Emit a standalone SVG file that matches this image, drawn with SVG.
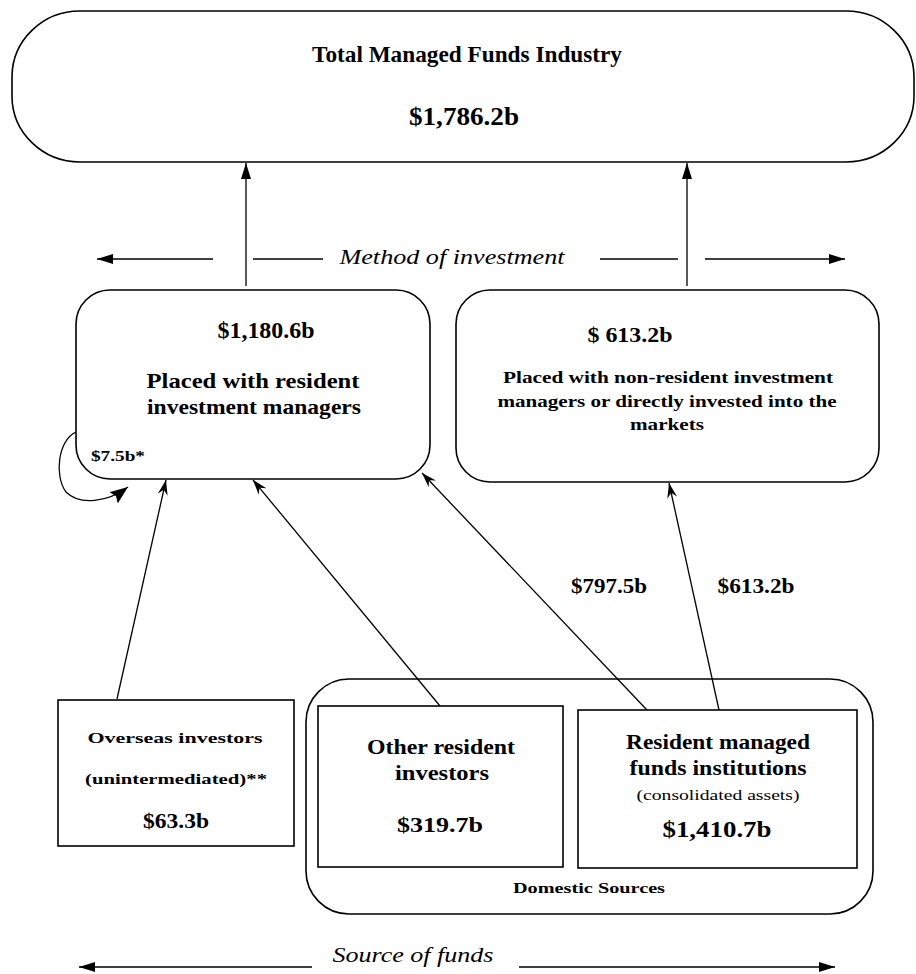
<svg xmlns="http://www.w3.org/2000/svg" width="916" height="974" viewBox="0 0 916 974">
<defs>
<style>
.box{fill:#fff;stroke:#000;stroke-width:1.6}
.ln{fill:none;stroke:#000;stroke-width:1.3}
.t{font-family:"Liberation Serif","Times New Roman",serif;font-weight:bold;fill:#000;text-anchor:middle}
.n{font-family:"Liberation Serif","Times New Roman",serif;fill:#000;text-anchor:middle}
.i{font-family:"Liberation Serif","Times New Roman",serif;font-style:italic;fill:#000;text-anchor:middle}
</style>
<marker id="solid" viewBox="0 0 16 10" refX="16" refY="5" markerWidth="16" markerHeight="10" markerUnits="userSpaceOnUse" orient="auto">
<path d="M0,0 L16,5 L0,10 z" fill="#000"/>
</marker>
<marker id="barb" viewBox="0 0 15 10" refX="15" refY="5" markerWidth="15" markerHeight="10" markerUnits="userSpaceOnUse" orient="auto">
<path d="M0,0 L15,5 L0,10 L5,5 z" fill="#000"/>
</marker>
<marker id="big" viewBox="0 0 18 14" refX="18" refY="7" markerWidth="18" markerHeight="14" markerUnits="userSpaceOnUse" orient="auto">
<path d="M0,0 L18,7 L0,14 L3,7 z" fill="#000"/>
</marker>
</defs>

<g id="total">
<rect class="box" x="12" y="11" width="902" height="151" rx="68" ry="66"/>
<text class="t" x="467" y="62" font-size="23" textLength="310" lengthAdjust="spacingAndGlyphs">Total Managed Funds Industry</text>
<text class="t" x="464" y="125" font-size="25" textLength="110" lengthAdjust="spacingAndGlyphs">$1,786.2b</text>
</g>

<g id="method-label">
<text class="i" x="452" y="264" font-size="20" textLength="225" lengthAdjust="spacingAndGlyphs">Method of investment</text>
</g>

<g id="resident-managers">
<rect class="box" x="76" y="290" width="354" height="189" rx="34" ry="34"/>
<text class="t" x="266" y="338" font-size="23" textLength="97" lengthAdjust="spacingAndGlyphs">$1,180.6b</text>
<text class="t" x="253" y="388" font-size="21" textLength="213" lengthAdjust="spacingAndGlyphs">Placed with resident</text>
<text class="t" x="254" y="414" font-size="21" textLength="214" lengthAdjust="spacingAndGlyphs">investment managers</text>
<text class="t" x="118" y="461" font-size="14" textLength="54" lengthAdjust="spacingAndGlyphs">$7.5b*</text>
</g>

<g id="non-resident">
<rect class="box" x="456" y="290" width="423" height="192" rx="34" ry="34"/>
<text class="t" x="630" y="342" font-size="22" textLength="85" lengthAdjust="spacingAndGlyphs">$ 613.2b</text>
<text class="t" x="668" y="383" font-size="16" textLength="330" lengthAdjust="spacingAndGlyphs">Placed with non-resident investment</text>
<text class="t" x="667" y="407" font-size="16" textLength="339" lengthAdjust="spacingAndGlyphs">managers or directly invested into the</text>
<text class="t" x="667" y="430" font-size="16" textLength="74" lengthAdjust="spacingAndGlyphs">markets</text>
</g>

<g id="overseas">
<rect class="box" x="58" y="700" width="236" height="146"/>
<text class="t" x="175" y="743" font-size="15" textLength="175" lengthAdjust="spacingAndGlyphs">Overseas investors</text>
<text class="t" x="176" y="784" font-size="15" textLength="182" lengthAdjust="spacingAndGlyphs">(unintermediated)**</text>
<text class="t" x="176" y="828" font-size="21" textLength="66" lengthAdjust="spacingAndGlyphs">$63.3b</text>
</g>

<g id="domestic">
<rect class="box" x="306" y="679" width="567" height="235" rx="43" ry="43"/>
<text class="t" x="589" y="893" font-size="15" textLength="152" lengthAdjust="spacingAndGlyphs">Domestic Sources</text>
</g>

<g id="other-resident">
<rect class="box" x="318" y="706" width="245" height="161"/>
<text class="t" x="441" y="754" font-size="21" textLength="148" lengthAdjust="spacingAndGlyphs">Other resident</text>
<text class="t" x="442" y="780" font-size="21" textLength="94" lengthAdjust="spacingAndGlyphs">investors</text>
<text class="t" x="440" y="832" font-size="22" textLength="86" lengthAdjust="spacingAndGlyphs">$319.7b</text>
</g>

<g id="resident-funds">
<rect class="box" x="578" y="710" width="279" height="158"/>
<text class="t" x="718" y="749" font-size="21" textLength="184" lengthAdjust="spacingAndGlyphs">Resident managed</text>
<text class="t" x="718" y="775" font-size="21" textLength="177" lengthAdjust="spacingAndGlyphs">funds institutions</text>
<text class="n" x="718" y="800" font-size="14" textLength="163" lengthAdjust="spacingAndGlyphs">(consolidated assets)</text>
<text class="t" x="717" y="837" font-size="24" textLength="109" lengthAdjust="spacingAndGlyphs">$1,410.7b</text>
</g>

<g id="source-label">
<text class="i" x="413" y="962" font-size="20" textLength="161" lengthAdjust="spacingAndGlyphs">Source of funds</text>
</g>

<g id="connectors">
<line class="ln" x1="246" y1="286" x2="246" y2="163" marker-end="url(#solid)"/>
<line class="ln" x1="687" y1="286" x2="687" y2="163" marker-end="url(#solid)"/>
<line class="ln" x1="213" y1="259" x2="97" y2="259" marker-end="url(#solid)"/>
<line class="ln" x1="253" y1="259" x2="323" y2="259"/>
<line class="ln" x1="600" y1="259" x2="678" y2="259"/>
<line class="ln" x1="705" y1="259" x2="845" y2="259" marker-end="url(#solid)"/>
<path class="ln" d="M76,432 C58,440 54,476 66,492 C80,506 108,502 128,487" marker-end="url(#big)"/>
<line class="ln" x1="117" y1="699" x2="166" y2="480" marker-end="url(#barb)"/>
<line class="ln" x1="440" y1="706" x2="253" y2="480" marker-end="url(#barb)"/>
<line class="ln" x1="647" y1="710" x2="422" y2="473" marker-end="url(#barb)"/>
<line class="ln" x1="719" y1="710" x2="669" y2="483" marker-end="url(#barb)"/>
<text class="t" x="609" y="593" font-size="20" textLength="76" lengthAdjust="spacingAndGlyphs">$797.5b</text>
<text class="t" x="756" y="593" font-size="20" textLength="77" lengthAdjust="spacingAndGlyphs">$613.2b</text>
<line class="ln" x1="312" y1="967" x2="79" y2="967" marker-end="url(#solid)"/>
<line class="ln" x1="519" y1="967" x2="835" y2="967" marker-end="url(#solid)"/>
</g>
</svg>
